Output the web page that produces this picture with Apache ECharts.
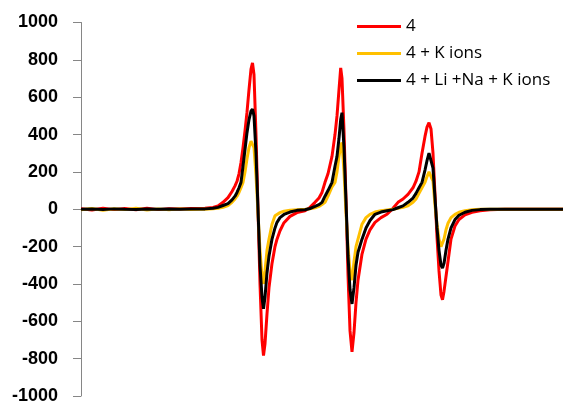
<!DOCTYPE html>
<html>
<head>
<meta charset="utf-8">
<script src="https://cdn.jsdelivr.net/npm/echarts@6/dist/echarts.min.js"></script>
<style>
html,body{margin:0;padding:0;background:#fff;}
#chart{width:563px;height:405px;}
</style>
</head>
<body>
<div id="chart"></div>
<script>
// Field position (arbitrary units, axis not labelled)
var fieldPos = [
  0, 11, 22, 33, 44, 55, 66, 77, 88, 99, 110, 119,
  124, 132, 137, 142, 147, 151, 154, 156, 158, 160, 162, 164, 166, 168, 170, 171.5, 173, 175, 177, 179, 181, 182.5, 184, 186, 188, 191, 194, 196, 199, 203, 209, 216,
  224, 229, 234, 238, 241, 244, 247, 251, 254, 256, 258, 259.7, 261, 263, 265, 267, 269, 271, 273, 275, 277, 281, 285, 289, 294, 300, 306,
  312, 317, 322, 327, 332, 335, 338, 341, 344, 346, 348, 350, 352, 354, 356, 358, 360, 361.5, 363, 365, 367, 370, 374, 378, 384, 391, 399, 409, 424, 444, 464, 482
];
var seriesNames = ['4', '4 + K ions', '4 + Li +Na + K ions'];
var sig4 = [
  3, -4, 5, -2, 4, -3, 6, -2, 3, 1, 4, 4,
  6, 10, 18, 37, 62, 95, 125, 150, 190, 250, 330, 420, 520, 640, 750, 784, 720, 400, 0, -400, -700, -784, -720, -560, -420, -290, -200, -160, -115, -72, -38, -18,
  -8, 10, 37, 60, 90, 144, 190, 283, 400, 500, 640, 757, 700, 420, 50, -350, -650, -763, -660, -500, -380, -240, -160, -110, -70, -45, -27,
  5, 37, 55, 80, 115, 150, 200, 300, 390, 440, 464, 430, 300, 80, -150, -330, -460, -485, -440, -360, -280, -160, -90, -55, -30, -16, -8, -3, 0, 0, 0, 0
];
var sig4K = [
  -3, 4, -5, 3, -2, 5, -4, 2, -3, 2, -1, 0,
  0, 2, 5, 10, 20, 37, 55, 70, 90, 115, 144, 200, 270, 330, 365, 373, 330, 180, -20, -220, -360, -400, -330, -220, -160, -80, -35, -27, -18, -10, -5, -2,
  0, 2, 8, 15, 25, 37, 70, 120, 144, 200, 283, 340, 357, 200, -20, -200, -330, -380, -280, -200, -160, -80, -45, -27, -15, -8, -4,
  0, 5, 10, 18, 37, 55, 85, 115, 144, 175, 200, 205, 150, 20, -80, -160, -200, -205, -160, -110, -75, -45, -27, -16, -8, -3, 0, 0, 0, 0, 0, 0
];
var sig4LiNaK = [
  0, 1, -1, 2, 0, -1, 1, 0, 1, 0, 1, 1,
  2, 5, 10, 20, 30, 50, 70, 90, 115, 144, 230, 320, 410, 480, 525, 537, 500, 300, 0, -300, -470, -533, -470, -340, -250, -160, -100, -70, -45, -28, -15, -6,
  -3, 4, 15, 25, 37, 70, 100, 144, 230, 283, 380, 480, 517, 330, 40, -250, -430, -507, -420, -300, -230, -160, -100, -60, -27, -15, -8,
  -2, 8, 18, 37, 60, 85, 115, 144, 210, 260, 300, 309, 220, 60, -100, -220, -300, -315, -290, -220, -160, -100, -55, -32, -16, -6, -2, 0, 0, 0, 0, 0
];
var yTicks = {min: -1000, max: 1000, step: 200};
var colors = ['#ff0000', '#ffc000', '#000000'];

function pairs(ys) {
  return fieldPos.map(function (x, i) { return [x, ys[i]]; });
}

var chart = echarts.init(document.getElementById('chart'), null, {renderer: 'canvas'});
var sigs = [sig4, sig4K, sig4LiNaK];
chart.setOption({
  animation: false,
  backgroundColor: '#ffffff',
  grid: {left: 81, right: 0, top: 22.5, bottom: 7.5, containLabel: false},
  legend: {
    orient: 'vertical',
    left: 352,
    top: 13,
    itemWidth: 44,
    itemHeight: 14,
    itemGap: 10,
    data: seriesNames.map(function (n) { return {name: n, icon: 'path://M0,6 L44,6 L44,9 L0,9 Z'}; }),
    textStyle: {fontFamily: 'Open Sans', fontSize: 17, color: '#000'}
  },
  xAxis: {
    type: 'value',
    min: fieldPos[0],
    max: fieldPos[fieldPos.length - 1],
    show: false
  },
  yAxis: {
    type: 'value',
    min: yTicks.min,
    max: yTicks.max,
    interval: yTicks.step,
    axisLine: {show: true, lineStyle: {color: '#868686', width: 1}},
    axisTick: {show: true, length: 8, lineStyle: {color: '#868686'}},
    splitLine: {show: false},
    axisLabel: {
      margin: 23,
      fontFamily: 'Liberation Sans',
      fontWeight: 'bold',
      fontSize: 18,
      color: '#000',
      formatter: function (v) { return String(v); }
    }
  },
  series: seriesNames.map(function (n, i) {
    return {
      name: n,
      type: 'line',
      data: pairs(sigs[i]),
      symbol: 'none',
      smooth: false,
      color: colors[i],
      lineStyle: {width: 3, color: colors[i]},
      z: i + 2
    };
  })
});
</script>
</body>
</html>
